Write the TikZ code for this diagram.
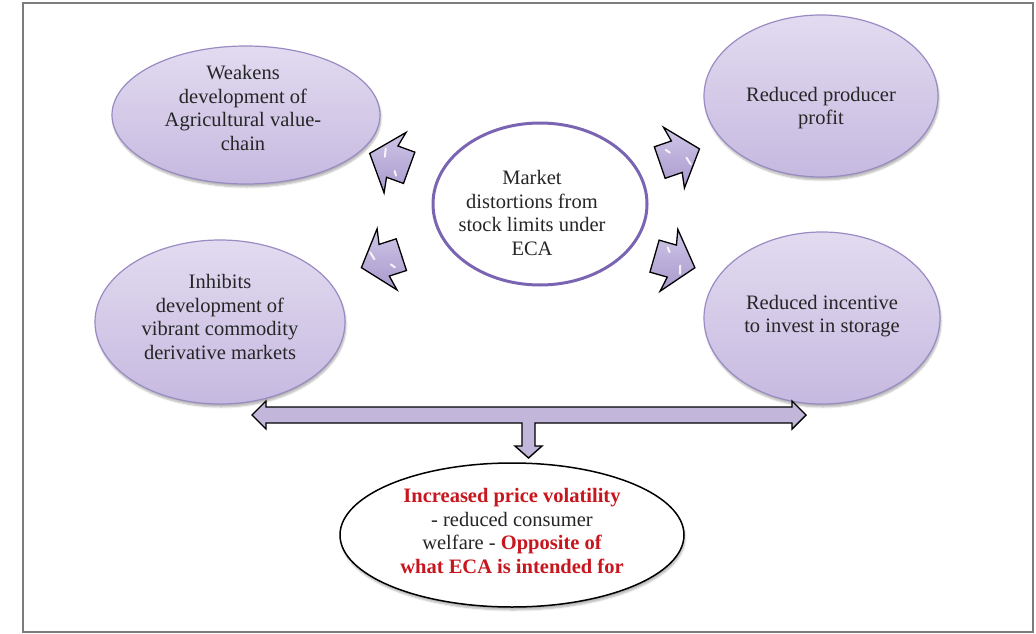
\documentclass[tikz,border=0pt]{standalone}
\usepackage{fontspec}
\setmainfont{Liberation Serif}
\usetikzlibrary{shapes.geometric,shapes.arrows,shadows.blur}

\definecolor{lilac}{HTML}{E2DBF0}
\definecolor{lilacdark}{HTML}{C6B9E0}
\definecolor{lilacline}{HTML}{9A8BC3}
\definecolor{ringline}{HTML}{7A65B2}
\definecolor{pushtop}{HTML}{CFC6E6}
\definecolor{pushbot}{HTML}{A899CE}
\definecolor{spanfill}{HTML}{C2B6DA}
\definecolor{alert}{HTML}{C8161E}
\definecolor{framegray}{HTML}{7C7C7C}
\definecolor{ink}{HTML}{262626}

\begin{document}
\begin{tikzpicture}[x=1pt,y=-1pt,
  every node/.style={inner sep=0pt},
  words/.style={font=\fontsize{20.5}{23.5}\selectfont, text=ink, align=center},
  effect/.style={ellipse, draw=lilacline, line width=1.2pt, top color=lilac, bottom color=lilacdark,
    blur shadow={shadow xshift=1pt, shadow yshift=-3pt, shadow opacity=30, shadow blur steps=6}},
  push/.style={single arrow, draw=black, line width=1.3pt, top color=pushtop, bottom color=pushbot,
    inner xsep=0pt, inner ysep=16pt, minimum height=42pt, single arrow head extend=15.5pt,
    single arrow tip angle=100, single arrow head indent=3pt,
    path picture={
      \draw[white, opacity=.85, line width=2pt, line cap=round]
        ([shift={(-5pt,7pt)}]path picture bounding box.center) -- ++(-3pt,4pt)
        ([shift={(9pt,-3pt)}]path picture bounding box.center) -- ++(2pt,-8pt);}},
  span/.style={draw=black, line width=1.4pt, fill=spanfill, line join=miter}]
  \useasboundingbox (0,0) rectangle (1036,634);
  \draw[framegray, line width=2pt] (23,3) rectangle (1033,632);

  % The cause in the middle.
  \node[ellipse, draw=ringline, line width=3pt, fill=white, minimum width=214pt, minimum height=162pt]
    (core) at (540,204) {};
  \node[words] at ([shift={(-8,9)}]core) {Market\\distortions from\\stock limits under\\ECA};

  % The four effects around it.
  \node[effect, minimum width=268pt, minimum height=138pt] (weak) at (246,115) {};
  \node[words] at ([shift={(-3,-7)}]weak) {Weakens\\development of\\Agricultural value-\\chain};
  \node[effect, minimum width=250pt, minimum height=164pt] (inhibit) at (220,322) {};
  \node[words] at ([shift={(0,-5)}]inhibit) {Inhibits\\development of\\vibrant commodity\\derivative markets};
  \node[effect, minimum width=234pt, minimum height=162pt] (producer) at (821,96) {};
  \node[words] at ([shift={(0,12)}]producer) {Reduced producer\\profit};
  \node[effect, minimum width=236pt, minimum height=172pt] (storage) at (822,318) {};
  \node[words] at ([shift={(0,-2)}]storage) {Reduced incentive\\to invest in storage};

  % Block arrows pushing out from the cause.
  \node[push, rotate=160] (toweak) at (396,163) {};
  \node[push, rotate=198] (toinhibit) at (388,259) {};
  \node[push, rotate=19] (toproducer) at (673,158) {};
  \node[push, rotate=-16] (tostorage) at (668,260) {};

  % The outcome.
  \node[ellipse, draw=black, line width=1.5pt, fill=white, minimum width=344pt, minimum height=144pt,
    blur shadow={shadow xshift=1pt, shadow yshift=-3pt, shadow opacity=30, shadow blur steps=6}]
    (outcome) at (512,535) {};
  \node[words] at ([shift={(0,-4)}]outcome)
    {{\color{alert}\bfseries Increased price volatility}\\- reduced consumer\\
     welfare - {\color{alert}\bfseries Opposite of}\\{\color{alert}\bfseries what ECA is intended for}};

  % The span under the effects, dropping onto the outcome.
  \coordinate (spanL) at (252,415);
  \coordinate (spanR) at (806,415);
  \coordinate (spanM) at (528.5,415);
  \coordinate (drop) at (528.5,458);
  \draw[span] (spanL) -- ++(14,-14) -- ++(0,6) -- ([shift={(-14,-8)}]spanR) -- ++(0,-6) -- (spanR)
    -- ++(-14,14) -- ++(0,-6) -- ([shift={(6.5,8)}]spanM) -- ([shift={(6.5,-12)}]drop) -- ++(7,0)
    -- (drop) -- ++(-13.5,-12) -- ++(7,0) -- ([shift={(-6.5,8)}]spanM) -- ([shift={(14,8)}]spanL)
    -- ++(0,6) -- cycle;
\end{tikzpicture}
\end{document}
